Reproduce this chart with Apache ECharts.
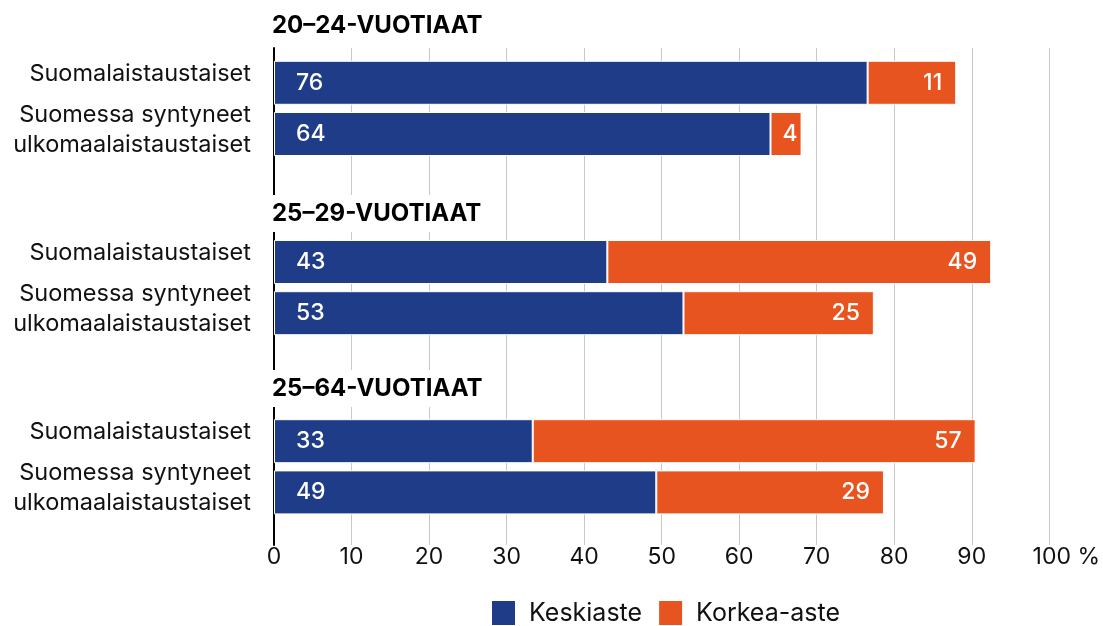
<!DOCTYPE html>
<html>
<head>
<meta charset="utf-8">
<script src="https://cdn.jsdelivr.net/npm/echarts@6/dist/echarts.min.js"></script>
<style>
  html, body { margin: 0; padding: 0; background: #fff; }
  #chart { width: 1103px; height: 626px; }
</style>
</head>
<body>
<div id="chart"></div>
<script>
// data
const groups = ["20–24-VUOTIAAT", "25–29-VUOTIAAT", "25–64-VUOTIAAT"];
const rowNames = ["Suomalaistaustaiset", "Suomessa syntyneet\nulkomaalaistaustaiset"];
const keskiaste = [76.4, 63.9, 42.9, 52.7, 33.3, 49.2];
const korkeaAste = [11.4, 4.0, 49.4, 24.5, 57.0, 29.3];
const xTicks = [0, 10, 20, 30, 40, 50, 60, 70, 80, 90, 100];

const BLUE = "#1f3c89";
const ORANGE = "#e8541f";
const FONT = "Inter, 'Noto Sans', sans-serif";

// each group takes 7 slots on the category axis: row, gap, row, 4 x gap
const SLOTS_PER_GROUP = 7;
const slotCount = (groups.length - 1) * SLOTS_PER_GROUP + 3;
const categories = new Array(slotCount).fill("");
const blueData = new Array(slotCount).fill("-");
const orangeData = new Array(slotCount).fill("-");
groups.forEach((g, gi) => {
  rowNames.forEach((r, ri) => {
    const slot = gi * SLOTS_PER_GROUP + ri * 2;
    const k = gi * rowNames.length + ri;
    categories[slot] = r;
    blueData[slot] = keskiaste[k];
    orangeData[slot] = { value: korkeaAste[k], label: { distance: korkeaAste[k] < 8 ? 4 : 14 } };
  });
});

const chart = echarts.init(document.getElementById("chart"));

const headerY = [26, 213.5, 388.5];
const graphics = [];
groups.forEach((g, i) => {
  graphics.push({
    type: "rect", z: 100,
    shape: { x: 269, y: headerY[i] - 18.5, width: 220, height: 37 },
    style: { fill: "#fff" }
  });
  graphics.push({
    type: "text", z: 101, x: 272, y: headerY[i],
    style: { text: g, font: "bold 24px " + FONT, fill: "#000", verticalAlign: "middle" }
  });
});

const option = {
  animation: false,
  textStyle: { fontFamily: FONT },
  grid: [
    { left: 274, right: 52, top: 48, bottom: 81 },
    { left: 274, right: 52, top: 70, bottom: 120.8 }
  ],
  legend: {
    left: 490, top: 599, padding: 0,
    itemWidth: 25, itemHeight: 26, itemGap: 15,
    icon: "rect",
    textStyle: { fontSize: 25, color: "#111", fontFamily: FONT, padding: [0, 0, 0, 8] },
    data: ["Keskiaste", "Korkea-aste"]
  },
  xAxis: [
    {
      gridIndex: 0, type: "value", min: 0, max: 100, interval: 10,
      axisLine: { show: false }, axisTick: { show: false },
      splitLine: { lineStyle: { color: "#c8c8c8", width: 1 } },
      axisLabel: {
        margin: 1, fontSize: 23, color: "#111",
        formatter: v => v === 100 ? "{s|}100 %" : String(v),
        rich: { s: { width: 34 } }
      }
    },
    {
      gridIndex: 1, type: "value", min: 0, max: 100, show: false
    }
  ],
  yAxis: [
    {
      gridIndex: 0, type: "category", data: [""],
      axisLine: { lineStyle: { color: "#000", width: 2 } },
      axisTick: { show: false }, axisLabel: { show: false }, splitLine: { show: false }
    },
    {
      gridIndex: 1, type: "category", inverse: true, data: categories,
      axisLine: { show: false }, axisTick: { show: false },
      axisLabel: {
        interval: 0, margin: 23, fontSize: 23.5, color: "#111", align: "right",
        formatter: v => {
          if (!v) return "";
          const lines = v.split("\n");
          if (lines.length === 1) return "{a|" + lines[0] + "}\n{g|}";
          return lines.map(l => "{a|" + l + "}").join("\n") + "\n{h|}";
        },
        rich: {
          a: { fontSize: 23.5, lineHeight: 30, color: "#111", fontFamily: FONT },
          g: { lineHeight: 18, fontSize: 1 },
          h: { lineHeight: 9, fontSize: 1 }
        }
      }
    }
  ],
  series: [
    {
      name: "Keskiaste", type: "bar", stack: "total", xAxisIndex: 1, yAxisIndex: 1,
      barWidth: 44, clip: false, data: blueData,
      itemStyle: { color: BLUE, borderColor: "#fff", borderWidth: 1 },
      label: {
        show: true, position: "insideLeft", distance: 22, color: "#fff",
        fontSize: 23, fontWeight: 500, fontFamily: FONT,
        formatter: p => Math.round(p.value)
      }
    },
    {
      name: "Korkea-aste", type: "bar", stack: "total", xAxisIndex: 1, yAxisIndex: 1,
      barWidth: 44, clip: false, data: orangeData,
      itemStyle: { color: ORANGE, borderColor: "#fff", borderWidth: 1 },
      label: {
        show: true, position: "insideRight", distance: 14, color: "#fff",
        fontSize: 23, fontWeight: 500, fontFamily: FONT,
        formatter: p => Math.round(p.value)
      }
    }
  ],
  graphic: graphics
};

chart.setOption(option);
</script>
</body>
</html>
